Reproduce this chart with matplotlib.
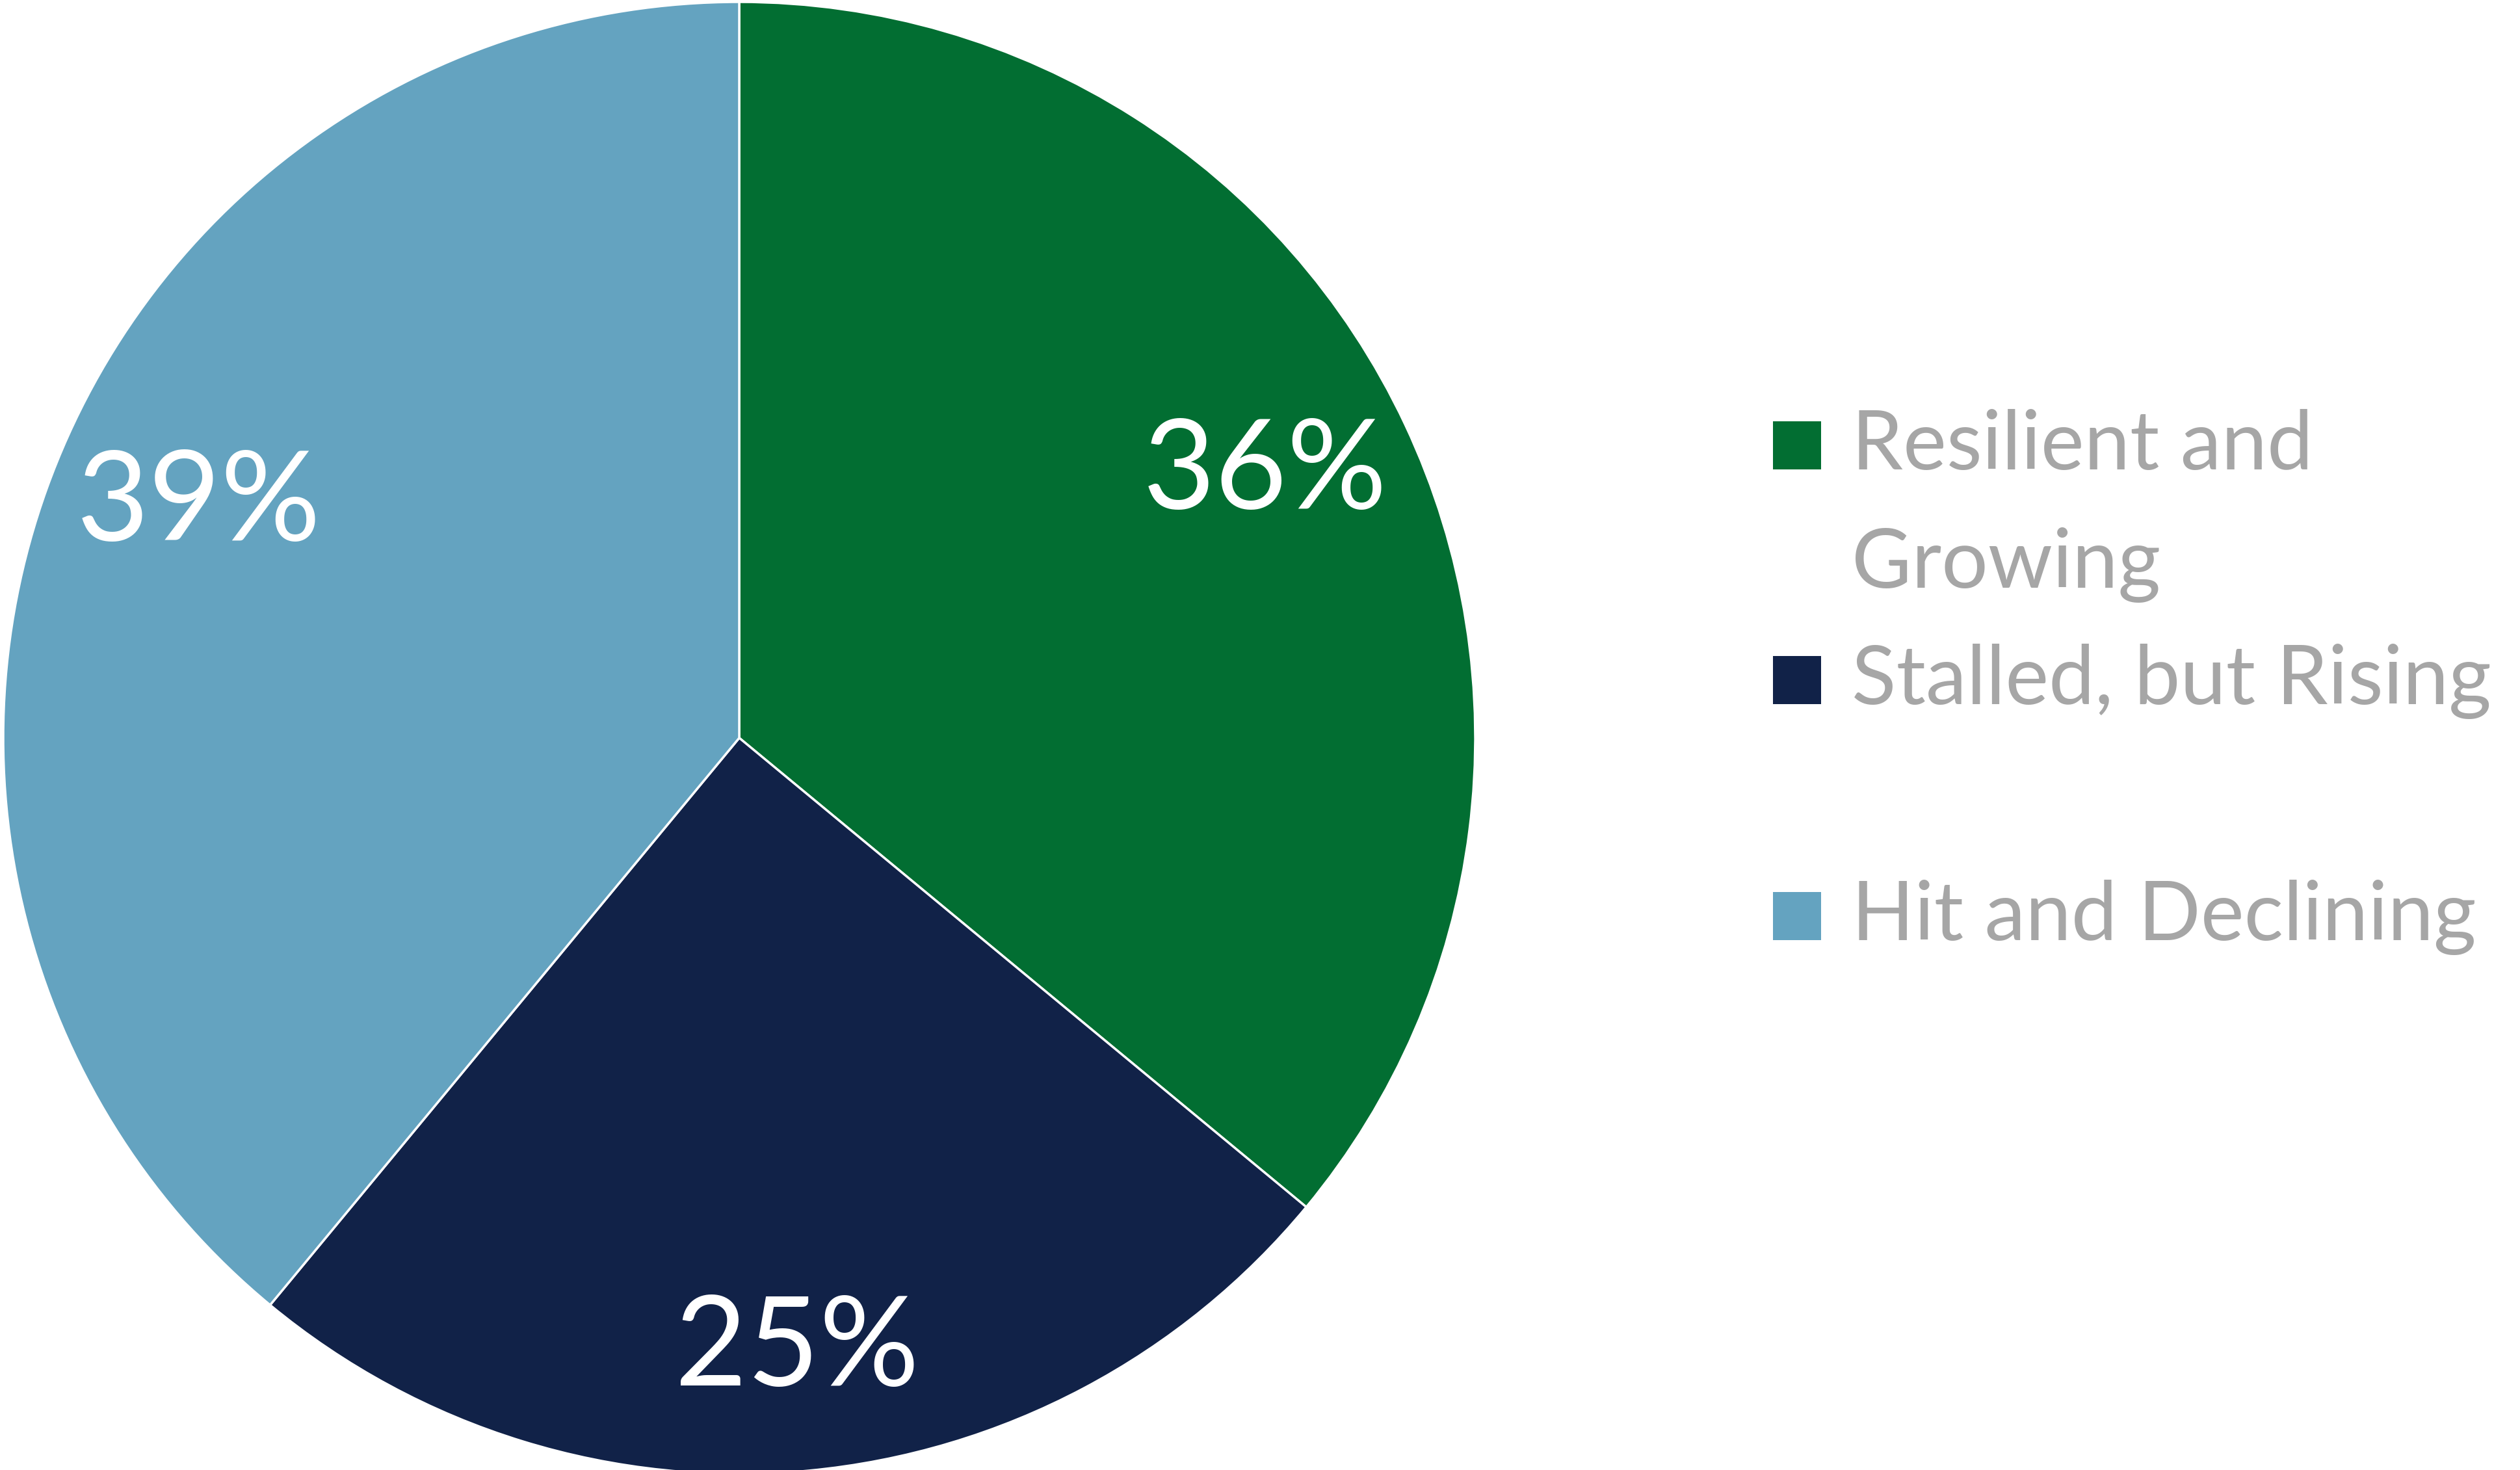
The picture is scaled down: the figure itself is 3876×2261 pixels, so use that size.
import matplotlib
matplotlib.use("Agg")
import matplotlib.pyplot as plt
from matplotlib.patches import Rectangle
import numpy as np

categories = ["Resilient and\nGrowing", "Stalled, but Rising", "Hit and Declining"]
values = [36, 25, 39]
colors = ["#026E32", "#112248", "#64A3C0"]

W, H = 3876, 2261
fig = plt.figure(figsize=(W / 100, H / 100), dpi=100)
fig.patch.set_facecolor("white")

cx, cy, r = 1137, 1135, 1132
ax = fig.add_axes([(cx - r) / W, (H - cy - r) / H, 2 * r / W, 2 * r / H])
wedges, texts, autotexts = ax.pie(
    values, colors=colors, startangle=90, counterclock=False,
    autopct=lambda p: f"{p:.0f}%", pctdistance=0.80, radius=1,
    wedgeprops=dict(edgecolor="white", linewidth=2.5),
    textprops=dict(color="white", fontsize=138, family="Lato"),
)
# slight label nudges (radial scale, rotation in degrees) as in the original
nudges = [(1.0, 1.5), (1.045, 0.0), (1.0, -3.5)]
for t, (s, rot) in zip(autotexts, nudges):
    x, y = t.get_position()
    a = np.deg2rad(rot)
    t.set_position((s * (x * np.cos(a) - y * np.sin(a)),
                    s * (x * np.sin(a) + y * np.cos(a))))
ax.set_xlim(-1, 1)
ax.set_ylim(-1, 1)
ax.axis("off")

# Legend (manual, to match multi-line layout)
sq_x, sq_w = 2727, 74
text_x = 2848
baselines = [722, 1083, 1446]
line_gap = 182
for lab, col, base in zip(categories, colors, baselines):
    fig.patches.append(Rectangle((sq_x / W, (H - base) / H), sq_w / W, sq_w / H,
                                 transform=fig.transFigure, facecolor=col,
                                 edgecolor="none"))
    for i, line in enumerate(lab.split("\n")):
        fig.text(text_x / W, (H - base - i * line_gap) / H, line,
                 color="#A6A6A6", fontsize=91, family="Lato",
                 ha="left", va="baseline")

fig.savefig("out.png", dpi=100, facecolor="white")
